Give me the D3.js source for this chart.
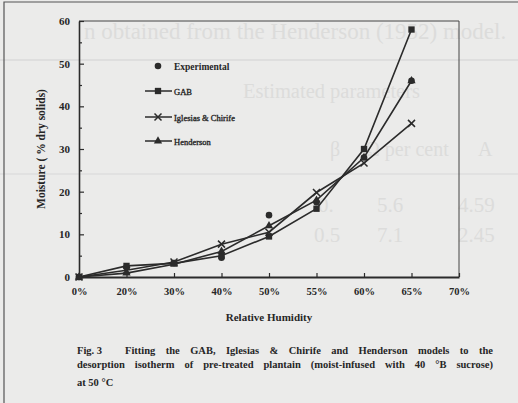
<!DOCTYPE html>
<html>
<head>
<meta charset="utf-8">
<script src="https://cdn.jsdelivr.net/npm/d3@7"></script>
<style>
  html, body { margin: 0; padding: 0; background: #ebebea; }
  svg { display: block; }
  text { font-family: "Liberation Serif", "Times New Roman", serif; fill: #262626; }
</style>
</head>
<body>
<script>
// chart data
const humidity = ['0%', '20%', '30%', '40%', '50%', '55%', '60%', '65%', '70%'];
const experimental = [0, 2.3, 3.3, 4.5, 14.5, 17.5, 28, 46];
const gab = [0, 2.6, 3.2, 5, 9.5, 16, 30, 58];
const iglesias = [0, 1.6, 3.5, 7.7, 10.5, 19.8, 26.7, 36];
const henderson = [0, 0.9, 3, 6, 12, 18, 28, 46];
const yTicks = [0, 10, 20, 30, 40, 50, 60];
const yMinor = [5, 15, 25, 35, 45, 55];

const figLabel = 'Fig. 3';
const caption = [
  'Fitting the GAB, Iglesias & Chirife and Henderson models to the',
  'desorption isotherm of pre-treated plantain (moist-infused with 40 °B sucrose)',
  'at 50 °C'
];

// faint text from the page behind
const ghostText = [
  ['n obtained from the Henderson (1952) model.', 84, 39, 23],
  ['Estimated parameters', 243, 98, 20.5],
  ['A', 478, 156, 20], ['\u03b2', 330, 156, 20], ['\u03a9 per cent', 365, 156, 20],
  ['4.59', 458, 212, 21], ['0.', 318, 212, 21], ['5.6', 377, 212, 21],
  ['2.45', 458, 242, 21], ['0.5', 314, 242, 21], ['7.1', 377, 242, 21]
];

const width = 518;
const height = 403;
const ink = '#2b2b2b';

let svg = d3.select('body')
  .append('svg')
  .attr('width', width)
  .attr('height', height);

svg.append('rect')
  .attr('width', width)
  .attr('height', height)
  .attr('fill', '#ebebea');

// ghost page
let ghost = svg.append('g');
ghost.selectAll('text')
  .data(ghostText)
  .enter()
  .append('text')
  .attr('x', d => d[1])
  .attr('y', d => d[2])
  .style('font-size', d => d[3] + 'px')
  .style('fill', '#dcdcdb')
  .text(d => d[0]);
ghost.append('line').attr('x1', 0).attr('x2', width).attr('y1', 60).attr('y2', 60)
  .attr('stroke', '#dadada').attr('stroke-width', 1.5);
ghost.append('line').attr('x1', 0).attr('x2', width).attr('y1', 174).attr('y2', 174)
  .attr('stroke', '#dedede').attr('stroke-width', 1.5);

// page frame
svg.append('path')
  .attr('d', `M4,${height} V2 H${width}`)
  .attr('fill', 'none')
  .attr('stroke', '#555')
  .attr('stroke-width', 1.2);

const margin = { left: 79, right: 459, top: 21, bottom: 277 };

let x = d3.scalePoint()
  .domain(humidity)
  .range([margin.left, margin.right]);

let y = d3.scaleLinear()
  .domain([0, 60])
  .range([margin.bottom, margin.top]);

// plot frame (top, right)
svg.append('path')
  .attr('d', `M${margin.left},${margin.top} H${margin.right} V${margin.bottom}`)
  .attr('fill', 'none')
  .attr('stroke', '#444')
  .attr('stroke-width', 1);

// y axis
let yAxis = svg.append('g')
  .attr('transform', `translate(${margin.left},0)`)
  .call(d3.axisLeft(y).tickValues(yTicks).tickSizeInner(-5).tickSizeOuter(0).tickPadding(9));
yAxis.select('.domain').attr('stroke', ink).attr('stroke-width', 1.6);
yAxis.selectAll('.tick line').attr('stroke', ink).attr('stroke-width', 1.2);
yAxis.selectAll('.tick text')
  .style('font-size', '11px')
  .style('font-weight', 'bold')
  .style('font-family', '"Liberation Serif", serif')
  .attr('fill', ink);

svg.append('g')
  .attr('transform', `translate(${margin.left},0)`)
  .call(d3.axisLeft(y).tickValues(yMinor).tickSizeInner(-3).tickSizeOuter(0).tickFormat(''))
  .call(g => g.select('.domain').remove())
  .selectAll('.tick line').attr('stroke', ink).attr('stroke-width', 1.2);

// x axis
let xAxis = svg.append('g')
  .attr('transform', `translate(0,${margin.bottom})`)
  .call(d3.axisBottom(x).tickSizeInner(-4).tickSizeOuter(0).tickPadding(11));
xAxis.select('.domain').attr('stroke', ink).attr('stroke-width', 2);
xAxis.selectAll('.tick line').attr('stroke', ink).attr('stroke-width', 1.2);
xAxis.selectAll('.tick text')
  .style('font-size', '10.5px')
  .style('font-weight', 'bold')
  .style('font-family', '"Liberation Serif", serif')
  .attr('fill', ink);

// axis titles
svg.append('text')
  .attr('transform', `translate(45,${(margin.top + margin.bottom) / 2}) rotate(-90)`)
  .attr('text-anchor', 'middle')
  .style('font-size', '11.5px')
  .style('font-weight', 'bold')
  .text('Moisture ( % dry solids)');

svg.append('text')
  .attr('x', (margin.left + margin.right) / 2)
  .attr('y', 321)
  .attr('text-anchor', 'middle')
  .style('font-size', '11px')
  .style('font-weight', 'bold')
  .text('Relative Humidity');

// series
const series = [
  { name: 'Experimental', values: experimental, symbol: d3.symbolCircle, size: 34, line: false },
  { name: 'GAB', values: gab, symbol: d3.symbolSquare, size: 40, line: true },
  { name: 'Iglesias & Chirife', values: iglesias, symbol: 'cross', size: 3.5, line: true },
  { name: 'Henderson', values: henderson, symbol: d3.symbolTriangle, size: 30, line: true }
];

let line = d3.line()
  .x((d, i) => x(humidity[i]))
  .y(d => y(d));

svg.selectAll('.series-line')
  .data(series.filter(s => s.line))
  .enter()
  .append('path')
  .attr('class', 'series-line')
  .attr('d', s => line(s.values))
  .attr('fill', 'none')
  .attr('stroke', ink)
  .attr('stroke-width', 1.6);

const drawMarker = (g, s) => {
  if (s.symbol === 'cross') {
    let r = s.size;
    g.append('path')
      .attr('d', `M${-r},${-r}L${r},${r}M${-r},${r}L${r},${-r}`)
      .attr('stroke', ink)
      .attr('stroke-width', 1.5)
      .attr('fill', 'none');
  } else {
    g.append('path')
      .attr('d', d3.symbol().type(s.symbol).size(s.size)())
      .attr('fill', ink);
  }
};

series.forEach(s => {
  s.values.forEach((v, i) => {
    let g = svg.append('g')
      .attr('transform', `translate(${x(humidity[i])},${y(v)})`);
    drawMarker(g, s);
  });
});

// legend
const legendX = 158;
const legendY = [66, 91, 117, 141];
series.forEach((s, i) => {
  let g = svg.append('g').attr('transform', `translate(${legendX},${legendY[i]})`);
  if (s.line) {
    g.append('line')
      .attr('x1', -13).attr('x2', 14)
      .attr('stroke', ink).attr('stroke-width', 1.5);
  }
  drawMarker(g, s);
  g.append('text')
    .attr('x', 16)
    .attr('y', 3.5)
    .style('font-size', i === 0 ? '9.5px' : '8.5px')
    .style('font-weight', i === 0 ? 'bold' : 'normal')
    .style('stroke', i === 0 ? 'none' : '#262626')
    .style('stroke-width', 0.35)
    .text(s.name);
});

// caption, justified lines
const capLeft = 77;
const capRight = 493;
const capY = [354, 368, 386];
const capFont = '10.5px';

svg.append('text')
  .attr('x', capLeft)
  .attr('y', capY[0])
  .style('font-size', capFont)
  .style('font-weight', 'bold')
  .text(figLabel);

caption.forEach((c, i) => {
  let left = i === 0 ? 125 : capLeft;
  let t = svg.append('text')
    .attr('x', left)
    .attr('y', capY[i])
    .style('font-size', capFont)
    .style('font-weight', 'bold')
    .text(c);
  if (i < 2) {
    let len = t.node().getComputedTextLength();
    let gaps = c.split(' ').length - 1;
    t.style('word-spacing', ((capRight - left - len) / gaps) + 'px');
  }
});
</script>
</body>
</html>
